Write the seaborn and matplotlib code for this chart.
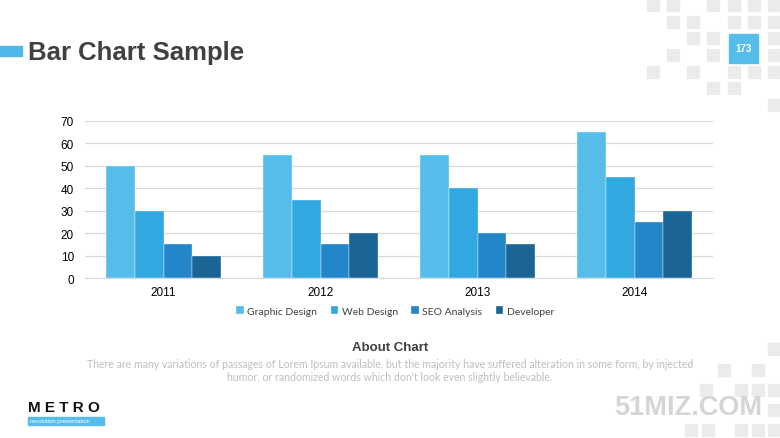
import pandas as pd
import matplotlib.pyplot as plt
import seaborn as sns
from matplotlib.patches import Rectangle

# Dados do gráfico
anos = ['2011', '2012', '2013', '2014']
graphic_design = [50, 55, 55, 65]
web_design = [30, 35, 40, 45]
seo_analysis = [15, 15, 20, 25]
developer = [10, 20, 15, 30]
series = ['Graphic Design', 'Web Design', 'SEO Analysis', 'Developer']
cores = ['#56BDEB', '#31A8E0', '#2286C8', '#1B6496']

df = pd.DataFrame({
    'ano': anos * 4,
    'valor': graphic_design + web_design + seo_analysis + developer,
    'serie': [s for s in series for _ in anos],
})

sns.set_style('white')
plt.rcParams['font.family'] = ['Liberation Sans', 'DejaVu Sans']

fig = plt.figure(figsize=(7.8, 4.39), dpi=100)
fig.patch.set_facecolor('white')

''' Decoração (quadrados cinza, cabeçalho, rodapé) '''
quadrados = [
    (647, 0), (667, 0), (707, 0), (728, 0), (748, 0), (768, 0),
    (667, 17), (687, 17), (728, 17), (748, 17), (768, 17),
    (687, 33), (707, 33), (768, 33),
    (667, 50), (707, 50), (768, 50),
    (647, 67), (687, 67), (728, 67), (748, 67), (768, 67),
    (707, 83), (728, 83), (768, 100),
    (768, 344), (718, 365), (752, 365),
    (700, 385), (735, 385), (752, 385), (768, 385),
    (768, 405),
    (685, 425), (702, 425), (735, 425), (752, 425), (768, 425),
]
for (x, y) in quadrados:
    fig.patches.append(Rectangle((x / 780, 1 - (y + 12) / 439), 12 / 780, 12 / 439,
                                 transform=fig.transFigure, color='#EBEBEB', zorder=0))

# barra azul + título
fig.patches.append(Rectangle((0, 1 - 57 / 439), 22 / 780, 10 / 439,
                             transform=fig.transFigure, color='#4DB8EA'))
fig.text(28 / 780, 1 - 53 / 439, 'Bar Chart Sample', fontsize=18.5, fontweight='bold',
         color='#404040', va='center', ha='left')

# número da página
fig.patches.append(Rectangle((729 / 780, 1 - 64 / 439), 29 / 780, 29 / 439,
                             transform=fig.transFigure, color='#56BDEB'))
fig.text(743.5 / 780, 1 - 49.5 / 439, '173', fontsize=7, fontweight='bold',
         color='white', ha='center', va='center')

''' Gráfico principal '''
ax = fig.add_axes([85 / 780, 1 - 279 / 439, 628 / 780, 157 / 439])
ax.set_facecolor('none')
sns.barplot(data=df, x='ano', y='valor', hue='serie', hue_order=series,
            palette=cores, width=0.73, gap=0, ax=ax,
            edgecolor='#FFFFFF', linewidth=0.25, saturation=1)

ax.set_ylim(0, 70)
ax.set_xlim(-0.5, 3.5)
ax.set_yticks(range(0, 71, 10))
ax.yaxis.grid(True, color='#D9D9D9', linewidth=0.9)
ax.set_axisbelow(True)
for s in ['top', 'right', 'left']:
    ax.spines[s].set_visible(False)
ax.spines['bottom'].set_color('#D9D9D9')
ax.set_xlabel('')
ax.set_ylabel('')
ax.tick_params(axis='both', length=0, labelsize=8.5, colors='#000000')
ax.tick_params(axis='y', pad=8)
ax.tick_params(axis='x', pad=6)
ax.set_xticks([-0.5, 0.5, 1.5, 2.5, 3.5], minor=True)
ax.tick_params(axis='x', which='minor', length=3, color='#D9D9D9')

leg = ax.legend(ncol=4, loc='center', bbox_to_anchor=(0.494, -0.21), frameon=False,
                handlelength=0.7, handleheight=0.7, handletextpad=0.35, columnspacing=1.3,
                prop={'family': 'Lato', 'size': 7.5})
for t in leg.get_texts():
    t.set_color('#404040')

''' Texto "About Chart" '''
fig.text(390 / 780, 1 - 348 / 439, 'About Chart', fontsize=9.5, fontweight='bold',
         color='#404040', ha='center', va='center')
fig.text(390 / 780, 1 - 371 / 439,
         'There are many variations of passages of Lorem Ipsum available, but the majority have suffered alteration in some form, by injected\n'
         "humor, or randomized words which don't look even slightly believable.",
         fontsize=7.6, color='#BFBFBF', ha='center', va='center', family='Lato', linespacing=1.3)

''' Logo e marca d'água '''
fig.text(28 / 780, 1 - 408 / 439, 'M E T R O', fontsize=11, fontweight='bold',
         color='#111111', ha='left', va='center')
fig.patches.append(Rectangle((28 / 780, 1 - 426 / 439), 76 / 780, 8 / 439,
                             transform=fig.transFigure, color='#56BDEB'))
fig.text(30 / 780, 1 - 422 / 439, 'revolution presentation', fontsize=4.2,
         color='white', ha='left', va='center')
fig.text(688 / 780, 1 - 408 / 439, '51MIZ.COM', fontsize=19.5, fontweight='bold',
         color='#D5D5D5', ha='center', va='center')

plt.savefig('out.png', dpi=100)
